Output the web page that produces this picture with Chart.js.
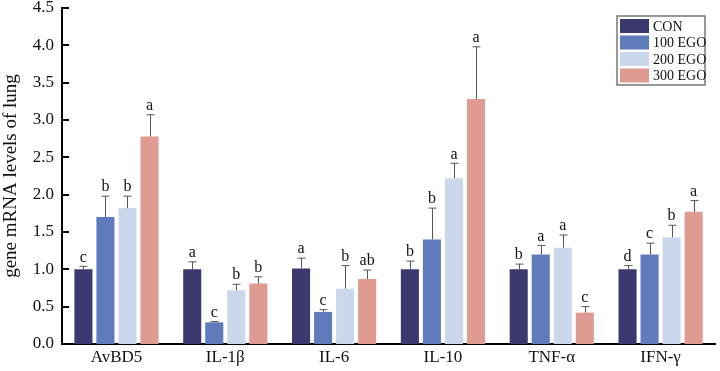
<!DOCTYPE html>
<html>
<head>
<meta charset="utf-8">
<script src="https://cdn.jsdelivr.net/npm/chart.js@4"></script>
<style>
  html, body { margin: 0; padding: 0; background: #fff; }
  #wrap { width: 720px; height: 371px; }
</style>
</head>
<body>
<div id="wrap"><canvas id="lungChart" width="720" height="371"></canvas></div>
<script>
var categories = ['AvBD5', 'IL-1\u03b2', 'IL-6', 'IL-10', 'TNF-\u03b1', 'IFN-\u03b3'];
var groups = ['CON', '100 EGO', '200 EGO', '300 EGO'];
var colors = ['#3c3870', '#5f7bbb', '#cbd8ec', '#df9a92'];

var conValues = [1.00, 1.00, 1.01, 1.00, 1.00, 1.00];
var ego100Values = [1.70, 0.29, 0.43, 1.40, 1.20, 1.20];
var ego200Values = [1.82, 0.72, 0.74, 2.22, 1.29, 1.43];
var ego300Values = [2.78, 0.81, 0.87, 3.28, 0.42, 1.77];

var conErr = [0.04, 0.10, 0.14, 0.11, 0.07, 0.05];
var ego100Err = [0.28, 0.01, 0.03, 0.42, 0.12, 0.15];
var ego200Err = [0.16, 0.08, 0.31, 0.20, 0.17, 0.16];
var ego300Err = [0.29, 0.09, 0.12, 0.70, 0.08, 0.15];

var conLetters = ['c', 'a', 'a', 'b', 'b', 'd'];
var ego100Letters = ['b', 'c', 'c', 'b', 'a', 'c'];
var ego200Letters = ['b', 'b', 'b', 'a', 'a', 'b'];
var ego300Letters = ['a', 'b', 'ab', 'a', 'c', 'a'];

var yTicks = [0, 0.5, 1.0, 1.5, 2.0, 2.5, 3.0, 3.5, 4.0, 4.5];

var serif = '"Liberation Serif", "Times New Roman", serif';

var allValues = [conValues, ego100Values, ego200Values, ego300Values];
var allErr = [conErr, ego100Err, ego200Err, ego300Err];
var allLetters = [conLetters, ego100Letters, ego200Letters, ego300Letters];

var datasets = groups.map(function (g, i) {
    return {
        label: g,
        data: allValues[i],
        errors: allErr[i],
        letters: allLetters[i],
        backgroundColor: colors[i],
        borderWidth: 0,
        categoryPercentage: 0.81,
        barPercentage: 0.82
    };
});

// error bars, letters, inner y ticks and boxed legend
var extras = {
    id: 'extras',
    afterDatasetsDraw: function (chart) {
        var ctx = chart.ctx;
        var yScale = chart.scales.y;
        ctx.save();

        chart.data.datasets.forEach(function (ds, di) {
            var meta = chart.getDatasetMeta(di);
            meta.data.forEach(function (bar, i) {
                var top = yScale.getPixelForValue(ds.data[i] + ds.errors[i]);
                var x = Math.round(bar.x) + 0.5;
                ctx.strokeStyle = '#555';
                ctx.lineWidth = 1;
                ctx.beginPath();
                ctx.moveTo(x, bar.y);
                ctx.lineTo(x, top);
                ctx.moveTo(x - 4, top);
                ctx.lineTo(x + 4, top);
                ctx.stroke();

                ctx.fillStyle = '#111';
                ctx.font = '16px ' + serif;
                ctx.textAlign = 'center';
                ctx.textBaseline = 'bottom';
                ctx.fillText(ds.letters[i], bar.x, top - 1);
            });
        });

        // inner ticks on the y axis
        var ax = chart.chartArea.left;
        ctx.strokeStyle = '#000';
        ctx.lineWidth = 2;
        yScale.ticks.forEach(function (t) {
            var y = Math.round(yScale.getPixelForValue(t.value));
            ctx.beginPath();
            ctx.moveTo(ax, y);
            ctx.lineTo(ax + 7, y);
            ctx.stroke();
        });

        // legend box
        var lx = 617, ly = 16, lw = 88, lh = 69;
        ctx.strokeStyle = '#777';
        ctx.lineWidth = 1.5;
        ctx.strokeRect(lx, ly, lw, lh);
        ctx.font = '14px ' + serif;
        ctx.textAlign = 'left';
        ctx.textBaseline = 'middle';
        chart.data.datasets.forEach(function (ds, di) {
            var rowY = ly + 3 + di * 16.5;
            ctx.fillStyle = ds.backgroundColor;
            ctx.fillRect(lx + 3, rowY, 29, 14);
            ctx.fillStyle = '#111';
            ctx.fillText(ds.label, lx + 36, rowY + 8);
        });
        ctx.restore();
    }
};

var ctx = document.getElementById('lungChart');
var chart = new Chart(ctx, {
    type: 'bar',
    data: { labels: categories, datasets: datasets },
    options: {
        responsive: false,
        animation: false,
        layout: { padding: { top: 0, right: 5, bottom: 0, left: 0 } },
        plugins: {
            legend: { display: false },
            tooltip: { enabled: false }
        },
        scales: {
            x: {
                grid: { display: false, drawTicks: false },
                border: { color: '#000', width: 2 },
                ticks: {
                    color: '#111',
                    padding: 5,
                    font: { family: serif, size: 17, lineHeight: 1 }
                }
            },
            y: {
                min: 0,
                max: 4.5,
                afterBuildTicks: function (scale) {
                    scale.ticks = yTicks.map(function (v) { return { value: v }; });
                },
                afterFit: function (scale) {
                    scale.paddingTop = 8;
                    scale.paddingBottom = 0;
                },
                grid: { display: false, drawTicks: false },
                border: { color: '#000', width: 2 },
                ticks: {
                    color: '#111',
                    padding: 8,
                    font: { family: serif, size: 17 },
                    callback: function (v) { return Number(v).toFixed(1); }
                },
                title: {
                    display: true,
                    text: 'gene mRNA levels of lung',
                    color: '#111',
                    padding: { top: 0, bottom: 2 },
                    font: { family: serif, size: 19 }
                }
            }
        }
    },
    plugins: [extras]
});
</script>
</body>
</html>
